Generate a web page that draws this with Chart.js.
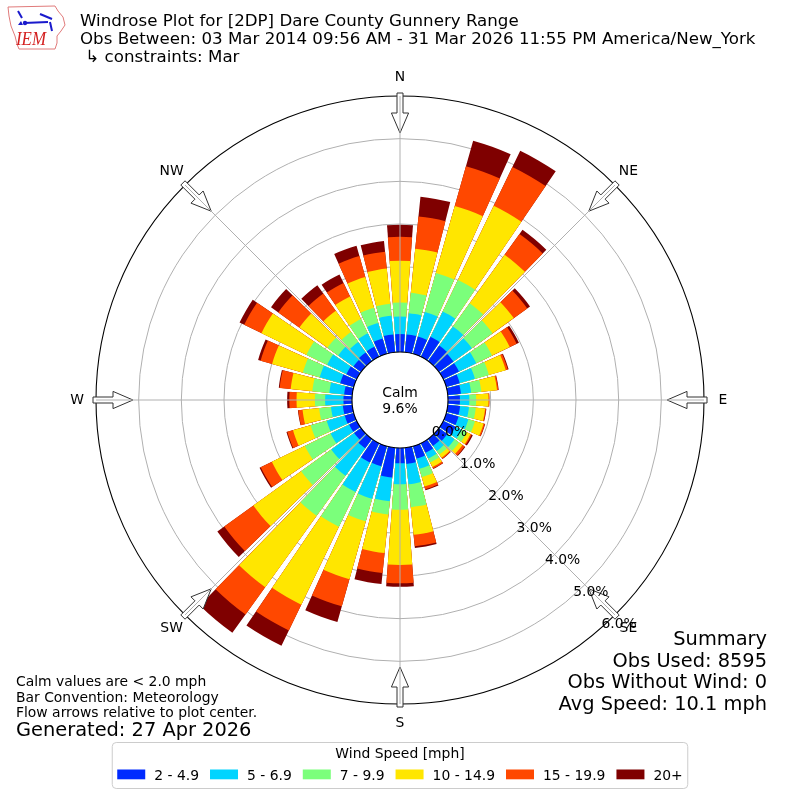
<!DOCTYPE html>
<html>
<head>
<meta charset="utf-8">
<title>Windrose Plot for [2DP] Dare County Gunnery Range</title>
<script src="https://cdn.jsdelivr.net/npm/chart.js@4.4.1/dist/chart.umd.min.js"></script>
<style>
html,body{margin:0;padding:0;background:#ffffff;}
canvas{display:block;}
</style>
</head>
<body>
<canvas id="rose" width="800" height="800"></canvas>
<script>
// ---------------- data ----------------
const directions = [0,10,20,30,40,50,60,70,80,90,100,110,120,130,140,150,160,170,
                    180,190,200,210,220,230,240,250,260,270,280,290,300,310,320,330,340,350];
const speedBins = ['2 - 4.9','5 - 6.9','7 - 9.9','10 - 14.9','15 - 19.9','20+'];
const binColors = ['#002aff','#00d4ff','#7bff7b','#ffe600','#ff4800','#7f0000'];

// frequency (% of all obs) per direction bin, one array per speed class
const spd2to5   = [0.42,0.42,0.42,0.52,0.45,0.42,0.41,0.33,0.31,0.28,0.29,0.30,0.32,0.24,0.20,0.25,0.30,0.38,
                   0.36,0.70,0.49,0.50,0.27,0.20,0.20,0.22,0.22,0.20,0.19,0.33,0.27,0.22,0.25,0.26,0.37,0.42];
const spd5to7   = [0.41,0.50,0.60,0.66,0.55,0.53,0.45,0.37,0.24,0.22,0.21,0.24,0.16,0.21,0.15,0.15,0.25,0.48,
                   0.49,0.56,0.79,0.77,0.79,0.66,0.48,0.44,0.28,0.43,0.35,0.50,0.50,0.44,0.30,0.35,0.38,0.44];
const spd7to10  = [0.33,0.48,0.95,0.82,0.67,0.60,0.41,0.34,0.24,0.16,0.16,0.16,0.13,0.13,0.10,0.10,0.20,0.54,
                   0.60,0.31,0.55,0.90,1.16,0.87,0.67,0.39,0.28,0.24,0.40,0.41,0.54,0.31,0.29,0.37,0.37,0.28];
const spd10to15 = [0.98,1.04,1.63,1.93,1.40,0.61,0.46,0.41,0.37,0.29,0.22,0.21,0.10,0.10,0.09,0.12,0.23,0.65,
                   1.29,0.91,1.41,2.03,2.06,1.38,0.86,0.43,0.39,0.43,0.51,0.75,1.17,0.81,0.61,0.59,0.75,0.83];
const spd15to20 = [0.56,0.76,0.97,1.01,0.60,0.39,0.18,0.05,0.03,0.02,0.02,0.03,0.03,0.06,0.03,0.04,0.07,0.27,
                   0.43,0.47,0.66,0.67,0.79,0.84,0.29,0.14,0.10,0.17,0.26,0.28,0.45,0.61,0.50,0.35,0.51,0.40];
const spd20plus = [0.28,0.46,0.62,0.42,0.12,0.08,0.06,0.02,0.01,0.00,0.01,0.01,0.03,0.02,0.01,0.01,0.02,0.04,
                   0.08,0.26,0.38,0.40,0.53,0.20,0.03,0.02,0.01,0.05,0.02,0.06,0.12,0.21,0.24,0.22,0.25,0.25];

const tickValues = [0,1,2,3,4,5,6];
const tickLabels = ['0.0%','1.0%','2.0%','3.0%','4.0%','5.0%','6.0%'];
const compassLabels = ['N','NE','E','SE','S','SW','W','NW'];
const compassBearings = [0,45,90,135,180,225,270,315];
const calmLabel = 'Calm';
const calmValue = '9.6%';
const titleLines = [
  'Windrose Plot for [2DP] Dare County Gunnery Range',
  'Obs Between: 03 Mar 2014 09:56 AM - 31 Mar 2026 11:55 PM America/New_York',
  ' \u21b3 constraints: Mar'
];
const noteLines = ['Calm values are < 2.0 mph','Bar Convention: Meteorology','Flow arrows relative to plot center.'];
const generatedText = 'Generated: 27 Apr 2026';
const summaryLines = ['Summary','Obs Used: 8595','Obs Without Wind: 0','Avg Speed: 10.1 mph'];
const legendTitle = 'Wind Speed [mph]';

// ---------------- chart construction ----------------
const speedSeries = [spd2to5, spd5to7, spd7to10, spd10to15, spd15to20, spd20plus];
const R_MIN = -1.125;   // offset so that 0 % sits on the calm circle
const R_MAX = 6;
const BAR_DEG = 8.5, GAP_DEG = 1.5;
const FONT = '"DejaVu Sans", "Liberation Sans", sans-serif';

// cumulative (stacked) totals per class
const cumulative = speedSeries.map((_, k) =>
  directions.map((d, i) => speedSeries.slice(0, k + 1).reduce((acc, arr) => acc + arr[i], 0)));

const labels = [];
directions.forEach(d => { labels.push(d + '\u00b0'); labels.push(''); });

const datasets = cumulative.map((cum, k) => ({
  label: speedBins[k],
  data: cum.flatMap(v => [v, R_MIN]),
  backgroundColor: binColors[k],
  borderWidth: 0,
  angle: c => (c.dataIndex % 2 === 0 ? BAR_DEG : GAP_DEG)
}));

function drawArrow(ctx, cx, cy, bearing, rOuter) {
  const a = (bearing - 90) * Math.PI / 180;
  const ca = Math.cos(a), sa = Math.sin(a);
  const P = [[rOuter + 3, -3], [rOuter - 17, -3], [rOuter - 17, -8.6], [rOuter - 37, 0],
             [rOuter - 17, 8.6], [rOuter - 17, 3], [rOuter + 3, 3]];
  ctx.beginPath();
  P.forEach(([u, v], i) => {
    const x = cx + u * ca - v * sa, y = cy + u * sa + v * ca;
    if (i === 0) ctx.moveTo(x, y); else ctx.lineTo(x, y);
  });
  ctx.closePath();
  ctx.fillStyle = '#ffffff';
  ctx.fill();
  ctx.strokeStyle = '#333333';
  ctx.lineWidth = 1;
  ctx.stroke();
}

function drawLogo(ctx) {
  ctx.save();
  ctx.strokeStyle = '#e07a7a';
  ctx.lineWidth = 1;
  ctx.beginPath();
  ctx.moveTo(8, 7); ctx.lineTo(55, 6); ctx.lineTo(58, 11); ctx.lineTo(63, 17);
  ctx.lineTo(65, 25); ctx.lineTo(61, 31); ctx.lineTo(57, 36); ctx.lineTo(57, 43);
  ctx.lineTo(55, 49); ctx.lineTo(19, 49); ctx.lineTo(17, 44); ctx.lineTo(15, 36);
  ctx.lineTo(11, 26); ctx.lineTo(9, 16); ctx.closePath();
  ctx.stroke();
  ctx.strokeStyle = '#1a1acc'; ctx.fillStyle = '#1a1acc';
  ctx.lineWidth = 2;
  ctx.beginPath(); ctx.moveTo(24, 23); ctx.lineTo(48, 22); ctx.stroke();
  ctx.beginPath(); ctx.moveTo(18, 11); ctx.lineTo(22, 18); ctx.stroke();
  ctx.beginPath(); ctx.moveTo(40, 14); ctx.lineTo(52, 19); ctx.stroke();
  ctx.beginPath(); ctx.moveTo(50, 22); ctx.lineTo(52, 31); ctx.stroke();
  ctx.beginPath(); ctx.arc(25, 23, 2.2, 0, Math.PI * 2); ctx.fill();
  ctx.beginPath(); ctx.moveTo(18, 25); ctx.lineTo(21, 21); ctx.lineTo(23, 25); ctx.closePath(); ctx.fill();
  ctx.fillStyle = '#d42020';
  ctx.font = 'italic 18px "Liberation Serif", serif';
  ctx.textAlign = 'left'; ctx.textBaseline = 'alphabetic';
  ctx.fillText('IEM', 16, 45, 30);
  ctx.restore();
}

const overlay = {
  id: 'windroseOverlay',
  afterDraw(chart) {
    const ctx = chart.ctx;
    const sc = chart.scales.r;
    const cx = sc.xCenter, cy = sc.yCenter;
    const rOf = v => sc.getDistanceFromCenterForValue(v);
    const r0 = rOf(0), rMax = rOf(R_MAX);
    const pt = (b, r) => { const a = (b - 90) * Math.PI / 180; return [cx + r * Math.cos(a), cy + r * Math.sin(a)]; };
    ctx.save();

    // direction arrows
    compassBearings.forEach(b => drawArrow(ctx, cx, cy, b, rMax));

    // angle grid lines
    ctx.strokeStyle = '#b0b0b0'; ctx.lineWidth = 1;
    compassBearings.forEach(b => {
      const [x1, y1] = pt(b, r0), [x2, y2] = pt(b, rMax);
      ctx.beginPath(); ctx.moveTo(x1, y1); ctx.lineTo(x2, y2); ctx.stroke();
    });

    // calm circle
    ctx.beginPath(); ctx.arc(cx, cy, r0, 0, Math.PI * 2);
    ctx.fillStyle = '#ffffff'; ctx.fill();
    ctx.strokeStyle = '#000000'; ctx.lineWidth = 1.1; ctx.stroke();

    ctx.fillStyle = '#000000';
    ctx.font = '13.9px ' + FONT;
    ctx.textAlign = 'center'; ctx.textBaseline = 'alphabetic';
    ctx.fillText(calmLabel, cx, cy - 3.5);
    ctx.fillText(calmValue, cx, cy + 12.5);

    // compass labels
    ctx.textBaseline = 'middle';
    compassLabels.forEach((t, i) => {
      const [x, y] = pt(compassBearings[i], rMax + 19);
      ctx.fillText(t, x, y);
    });

    // radial tick labels
    ctx.textAlign = 'left'; ctx.textBaseline = 'alphabetic';
    tickValues.forEach((v, i) => {
      const [x, y] = pt(138.5, rOf(v));
      ctx.fillText(tickLabels[i], x, y);
    });

    // titles
    ctx.font = '16.67px ' + FONT;
    titleLines.forEach((t, i) => ctx.fillText(t, 80, 26 + i * 17.9));

    // notes bottom-left
    ctx.font = '13.9px ' + FONT;
    noteLines.forEach((t, i) => ctx.fillText(t, 16, 686 + i * 15.5));
    ctx.font = '19.4px ' + FONT;
    ctx.fillText(generatedText, 16, 736);

    // summary bottom-right
    ctx.textAlign = 'right';
    summaryLines.forEach((t, i) => ctx.fillText(t, 767, 645 + i * 21.7));

    // legend
    ctx.font = '13.9px ' + FONT;
    const patchW = 28, pad = 9, gap = 11;
    const widths = speedBins.map(t => ctx.measureText(t).width);
    const total = widths.reduce((a, w) => a + patchW + pad + w, 0) + gap * (speedBins.length - 1);
    const boxW = total + 10, boxX = 400 - boxW / 2, boxY = 742.5, boxH = 46;
    ctx.beginPath();
    if (ctx.roundRect) ctx.roundRect(boxX, boxY, boxW, boxH, 4); else ctx.rect(boxX, boxY, boxW, boxH);
    ctx.fillStyle = 'rgba(255,255,255,0.8)'; ctx.fill();
    ctx.strokeStyle = '#cccccc'; ctx.lineWidth = 1; ctx.stroke();
    ctx.fillStyle = '#000000';
    ctx.textAlign = 'center';
    ctx.fillText(legendTitle, 400, 758);
    ctx.textAlign = 'left';
    let x = 400 - total / 2;
    speedBins.forEach((t, i) => {
      ctx.fillStyle = binColors[i];
      ctx.fillRect(x, 769.5, patchW, 9.8);
      ctx.fillStyle = '#000000';
      ctx.fillText(t, x + patchW + pad, 779.5);
      x += patchW + pad + widths[i] + gap;
    });

    drawLogo(ctx);
    ctx.restore();
  }
};

new Chart(document.getElementById('rose'), {
  type: 'polarArea',
  data: { labels, datasets },
  options: {
    responsive: false,
    animation: false,
    events: [],
    layout: { padding: 96 },
    plugins: { legend: { display: false }, tooltip: { enabled: false }, title: { display: false } },
    scales: {
      r: {
        min: R_MIN,
        max: R_MAX,
        startAngle: -BAR_DEG / 2,
        z: 1,
        afterBuildTicks: s => { s.ticks = tickValues.map(v => ({ value: v })); },
        ticks: { display: false },
        grid: {
          circular: true,
          color: c => (c.tick && c.tick.value === R_MAX ? '#000000' : '#b0b0b0'),
          lineWidth: c => (c.tick && c.tick.value === R_MAX ? 1.1 : 1)
        },
        angleLines: { display: false },
        pointLabels: { display: false }
      }
    }
  },
  plugins: [overlay]
});
</script>
</body>
</html>
